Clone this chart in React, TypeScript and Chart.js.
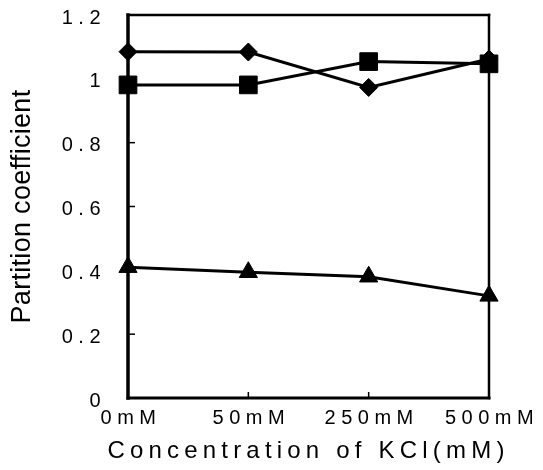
import { useEffect, useRef } from "react";
import { Chart, registerables } from "chart.js";

Chart.register(...registerables);

const categories = ["0mM", "50mM", "250mM", "500mM"];
const diamondSeries = [1.085, 1.084, 0.973, 1.062];
const squareSeries = [0.981, 0.981, 1.054, 1.047];
const triangleSeries = [0.41, 0.394, 0.38, 0.32];
const yTickValues = [0, 0.2, 0.4, 0.6, 0.8, 1, 1.2];
const yTickLabels = ["0", "0.2", "0.4", "0.6", "0.8", "1", "1.2"];
const xTitle = "Concentration of KCl(mM)";
const yTitle = "Partition coefficient";

const FONT = "'Liberation Sans', Arial, Helvetica, sans-serif";
const SPACING = "5.5px";

// Draw an axis title with its own letter spacing and without Chart.js's maxWidth squeeze.
function patchTitle(chart: any, scale: any, spacing: string) {
  if (!scale || scale._titlePatched) return;
  const orig = scale.drawTitle.bind(scale);
  scale.drawTitle = function () {
    const c: any = chart.ctx;
    const prev = c.letterSpacing;
    const protoFill = CanvasRenderingContext2D.prototype.fillText;
    c.letterSpacing = spacing;
    c.fillText = function (t: string, x: number, y: number) {
      return protoFill.call(c, t, x, y);
    };
    try {
      orig();
    } finally {
      delete c.fillText;
      c.letterSpacing = prev;
    }
  };
  scale._titlePatched = true;
}

const spacingPlugin: any = {
  id: "letterSpacing",
  beforeUpdate(chart: any) {
    chart.ctx.letterSpacing = SPACING;
  },
  beforeLayout(chart: any) {
    chart.ctx.letterSpacing = SPACING;
  },
  afterLayout(chart: any) {
    patchTitle(chart, chart.scales.y, "0.3px");
    patchTitle(chart, chart.scales.x, "5.2px");
  },
  beforeDraw(chart: any) {
    chart.ctx.letterSpacing = SPACING;
  },
};

const framePlugin: any = {
  id: "frame",
  beforeDatasetsDraw(chart: any) {
    const { ctx, chartArea: a, scales } = chart;
    ctx.save();
    ctx.strokeStyle = "#000";
    ctx.lineCap = "square";
    const line = (x1: number, y1: number, x2: number, y2: number, w: number) => {
      ctx.lineWidth = w;
      ctx.beginPath();
      ctx.moveTo(x1, y1);
      ctx.lineTo(x2, y2);
      ctx.stroke();
    };
    line(a.left, a.top, a.right, a.top, 2.5);
    line(a.right, a.top, a.right, a.bottom, 2.5);
    line(a.left, a.bottom, a.right, a.bottom, 3);
    line(a.left, a.top, a.left, a.bottom, 3.5);
    ctx.lineCap = "butt";
    yTickValues.slice(1, -1).forEach((v) => {
      const y = scales.y.getPixelForValue(v);
      line(a.left, y, a.left + 7, y, 1.5);
    });
    categories.slice(1, -1).forEach((_c, i) => {
      const x = scales.x.getPixelForValue(i + 1);
      line(x, a.bottom, x, a.bottom - 6, 1.5);
    });
    ctx.restore();
  },
};

export default function App() {
  const canvasRef = useRef<HTMLCanvasElement | null>(null);

  useEffect(() => {
    if (!canvasRef.current) return;
    const common = {
      borderColor: "#000",
      backgroundColor: "#000",
      pointBackgroundColor: "#000",
      pointBorderColor: "#000",
      pointBorderWidth: 1,
      borderWidth: 3,
      tension: 0,
      clip: false as any,
    };
    const chart = new Chart(canvasRef.current, {
      type: "line",
      data: {
        labels: categories,
        datasets: [
          { ...common, label: "diamond", data: diamondSeries, pointStyle: "rectRot", pointRadius: 9 },
          { ...common, label: "square", data: squareSeries, pointStyle: "rect", pointRadius: 12.5 },
          { ...common, label: "triangle", data: triangleSeries, pointStyle: "triangle", pointRadius: 10.5 },
        ],
      },
      options: {
        animation: false,
        responsive: false,
        devicePixelRatio: 1,
        layout: { padding: { top: 15, right: 54, left: 0, bottom: 0 } },
        plugins: {
          legend: { display: false },
          tooltip: { enabled: false },
        },
        scales: {
          x: {
            type: "category",
            offset: false,
            grid: { display: false, drawTicks: false },
            border: { display: false },
            ticks: {
              color: "#000",
              font: { family: FONT, size: 20 },
              padding: 8,
              maxRotation: 0,
              autoSkip: false,
              labelOffset: 3,
            },
            title: {
              display: true,
              text: xTitle,
              color: "#000",
              font: { family: FONT, size: 24 },
              padding: { top: 0, bottom: 4 },
            },
            afterFit: (scale: any) => {
              scale.height = 72;
              scale.paddingLeft = 0;
              scale.paddingRight = 0;
            },
          },
          y: {
            type: "linear",
            min: 0,
            max: 1.2,
            grid: { display: false, drawTicks: false },
            border: { display: false },
            afterBuildTicks: (scale: any) => {
              scale.ticks = yTickValues.map((v) => ({ value: v }));
            },
            ticks: {
              color: "#000",
              font: { family: FONT, size: 20 },
              padding: 22,
              labelOffset: 3,
              callback: (v: any) => {
                const idx = yTickValues.findIndex((t) => Math.abs(t - Number(v)) < 1e-6);
                return idx >= 0 ? yTickLabels[idx] : "";
              },
            },
            title: {
              display: true,
              text: yTitle,
              color: "#000",
              font: { family: FONT, size: 27 },
              padding: { top: 6, bottom: 0 },
            },
            afterFit: (scale: any) => {
              scale.width = 128;
              scale.paddingTop = 0;
              scale.paddingBottom = 0;
            },
          },
        },
      },
      plugins: [spacingPlugin, framePlugin],
    });
    return () => chart.destroy();
  }, []);

  return (
    <div style={{ position: "absolute", left: 0, top: 0, width: 543, height: 470, background: "#fff" }}>
      <canvas ref={canvasRef} width={543} height={470} style={{ display: "block", width: 543, height: 470 }} />
    </div>
  );
}
